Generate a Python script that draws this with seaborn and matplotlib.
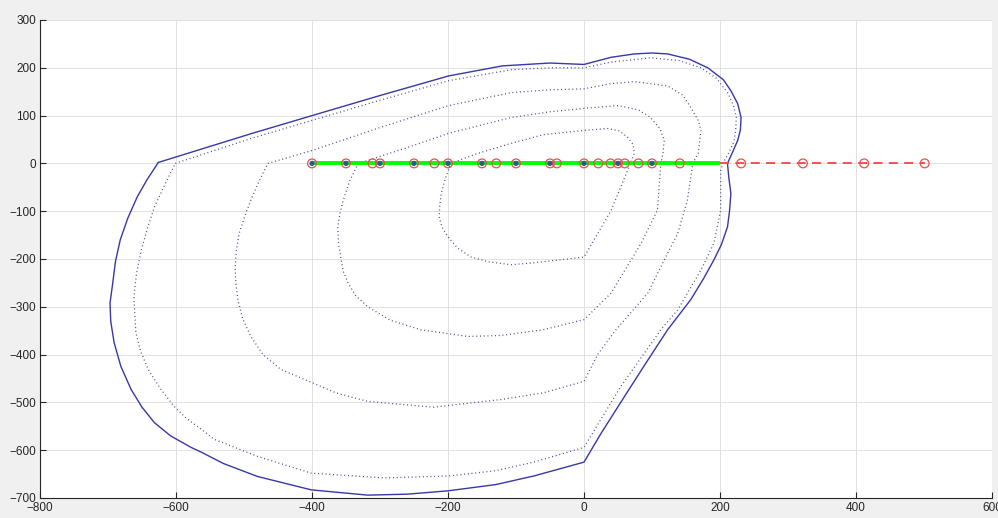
import numpy as np
import pandas as pd
import matplotlib
matplotlib.use("Agg")
import matplotlib.pyplot as plt
import seaborn as sns

# ----------------------------
# Data
# ----------------------------

# outer solid boundary (closed loop)
outer_x = [-626, -490, -400, -300, -199, -120, -50, 0, 40, 74, 100, 123, 155, 182, 205, 216, 226,
           231, 230, 226, 218, 211, 213, 216, 214, 211, 202, 191, 175, 157, 123, 90, 54, 25, 0,
           -74, -130, -200, -260, -318, -401, -480, -530, -563, -578, -608, -632, -650, -666,
           -681, -691, -696, -697, -693, -689, -682, -671, -657, -643, -626]
outer_y = [2, 62, 100, 142, 183, 204, 210, 207, 222, 229, 231, 229, 218, 200, 175, 152, 125,
           96, 70, 48, 22, 0, -30, -63, -100, -133, -170, -202, -243, -285, -348, -420, -500, -565,
           -625, -654, -672, -685, -692, -694, -683, -655, -628, -604, -594, -570, -542, -510, -473,
           -425, -375, -330, -292, -250, -205, -160, -115, -70, -35, 2]

# dotted contours, outermost first
c1_x = [-601, -490, -400, -300, -199, -107, -50, 0, 40, 98, 140, 172, 195, 212, 220, 224, 223,
        221, 213, 204, 201, 201, 191, 172, 138, 113, 54, 0, -74, -130, -200, -294, -401, -480,
        -544, -563, -585, -603, -623, -641, -652, -659, -662, -658, -651, -642, -632, -617, -601]
c1_y = [0, 52, 90, 132, 173, 196, 200, 200, 212, 221, 215, 200, 178, 146, 120, 96, 70,
        48, 22, 0, -15, -98, -167, -223, -306, -348, -467, -594, -625, -643, -654, -658, -648, -613,
        -577, -556, -533, -508, -471, -431, -393, -354, -279, -230, -181, -136, -92, -46, 0]

c2_x = [-465, -400, -300, -199, -107, -50, 0, 40, 74, 123, 145, 157, 168, 172, 170, 168, 160,
        152, 138, 118, 94, 47, 20, 0, -60, -122, -221, -318, -365, -401, -446, -472, -490, -502,
        -509, -512, -513, -511, -507, -499, -490, -478, -465]
c2_y = [0, 27, 75, 121, 148, 154, 156, 167, 171, 162, 143, 117, 90, 69, 45, 21, 0,
        -77, -146, -202, -271, -348, -400, -456, -480, -494, -510, -498, -480, -458, -431, -400,
        -362, -325, -285, -250, -217, -180, -146, -111, -77, -38, 0]

c3_x = [-332, -260, -199, -107, -50, 0, 50, 80, 98, 112, 118, 116, 113, 108, 84, 40, 0, -60,
        -122, -171, -240, -285, -318, -336, -347, -354, -357, -361, -362, -359, -354, -345, -332]
c3_y = [0, 33, 63, 96, 108, 115, 121, 112, 96, 72, 48, 20, 0, -98, -167, -271, -327, -348,
        -360, -362, -348, -328, -300, -276, -250, -226, -202, -168, -133, -105, -77, -38, 0]

c4_x = [-196, -156, -107, -60, 0, 35, 52, 64, 72, 74, 66, 40, 0, -74, -107, -140, -166, -186,
        -200, -209, -213, -212, -210, -204, -196]
c4_y = [0, 21, 42, 60, 69, 73, 68, 55, 40, 21, -8, -98, -196, -208, -212, -206, -196, -177,
        -154, -133, -112, -87, -63, -32, 0]

# points along the y = 0 line
grid_pts = [-400, -350, -300, -250, -200, -150, -100, -50, 0, 50, 100]
extra_pts = [-311, -220, -129, -40, 21, 39, 60, 80, 141]
path_end = 200
ahead_pts = [231, 322, 412, 501]

x_ticks = list(range(-800, 601, 200))
y_ticks = list(range(-700, 301, 100))

# ----------------------------
# Plot
# ----------------------------
sns.set_theme(style="whitegrid")
plt.rcParams['font.family'] = ['Liberation Sans', 'DejaVu Sans']

fig = plt.figure(figsize=(9.98, 5.18), dpi=100, facecolor='#f0f0f0')
ax = fig.add_axes([40 / 998, 20 / 518, 952 / 998, 478 / 518])
ax.set_facecolor('white')

sns.lineplot(x=outer_x, y=outer_y, sort=False, estimator=None, color='#3838a6', lw=1.0, ax=ax)
for cx, cy in [(c1_x, c1_y), (c2_x, c2_y), (c3_x, c3_y), (c4_x, c4_y)]:
    sns.lineplot(x=cx, y=cy, sort=False, estimator=None, color='#48488c', lw=0.9,
                 linestyle=(0, (0.8, 2.2)), ax=ax)

# travelled path (green) and predicted path (red dashed)
ax.plot([grid_pts[0], path_end], [0, 0], color='#00ff00', lw=2.8, zorder=3,
        solid_capstyle='butt')
ax.plot([path_end] + ahead_pts, [0] * (len(ahead_pts) + 1), color='#f04848', lw=1.3,
        dashes=(5, 3.5), zorder=3)

all_pts = pd.DataFrame({'x': grid_pts + extra_pts + ahead_pts, 'y': 0})
sns.scatterplot(data=all_pts, x='x', y='y', marker='o', s=40, facecolors='none',
                edgecolor='#e8504a', linewidth=0.9, zorder=4, ax=ax)
sns.scatterplot(x=grid_pts, y=[0] * len(grid_pts), marker='o', s=14, color='#2c5a8a',
                edgecolor='none', zorder=5, ax=ax)

ax.set_xlim(-800, 600)
ax.set_ylim(-700, 300)
ax.set_xticks(x_ticks)
ax.set_yticks(y_ticks)
ax.set_xlabel('')
ax.set_ylabel('')
ax.grid(True, color='#e1e1e1', lw=0.7)
for side in ['top', 'right']:
    ax.spines[side].set_visible(False)
for side in ['left', 'bottom']:
    ax.spines[side].set_color('#262626')
    ax.spines[side].set_linewidth(0.8)
ax.tick_params(direction='in', length=4, width=0.8, color='#262626', labelcolor='#262626',
               labelsize=8.5, pad=3, left=True, bottom=True)

fig.savefig('out.png', dpi=100, facecolor=fig.get_facecolor())
